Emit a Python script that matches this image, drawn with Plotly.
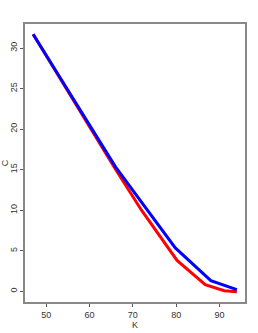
import plotly.graph_objects as go

red_k = [47, 60, 66, 72, 80.2, 86.7, 91.1, 94]
red_c = [31.7, 20.35, 15.05, 10.0, 3.8, 0.83, 0.08, -0.05]
blue_k = [47, 60, 66, 79.8, 88.0, 94]
blue_c = [31.7, 20.6, 15.35, 5.35, 1.32, 0.2]

x_ticks = [50, 60, 70, 80, 90]
y_ticks = [0, 5, 10, 15, 20, 25, 30]

fig = go.Figure()
fig.add_trace(go.Scatter(x=red_k, y=red_c, mode="lines",
                         line=dict(color="#ff0000", width=3), showlegend=False))
fig.add_trace(go.Scatter(x=blue_k, y=blue_c, mode="lines",
                         line=dict(color="#0000ff", width=3), showlegend=False))

font = dict(family="Liberation Sans, Arial", size=9, color="#333333")
axis_common = dict(showline=True, linecolor="#888888", linewidth=1.5, mirror=True,
                   showgrid=False, zeroline=False, ticks="outside", ticklen=3,
                   tickcolor="#555555", tickfont=font, automargin=False)

fig.update_layout(
    width=258, height=333,
    margin=dict(l=25, r=13, t=24, b=31),
    paper_bgcolor="white", plot_bgcolor="white",
    xaxis=dict(range=[45.12, 95.88], tickvals=x_ticks,
               title=dict(text="K", font=font, standoff=3), **axis_common),
    yaxis=dict(range=[-1.32, 32.97], tickvals=y_ticks, tickangle=-90,
               title=dict(text="C", font=font, standoff=3), **axis_common),
)
fig.write_html("out.html", config={"displayModeBar": False},
               post_script="document.body.style.margin='0';document.body.style.overflow='hidden';")
